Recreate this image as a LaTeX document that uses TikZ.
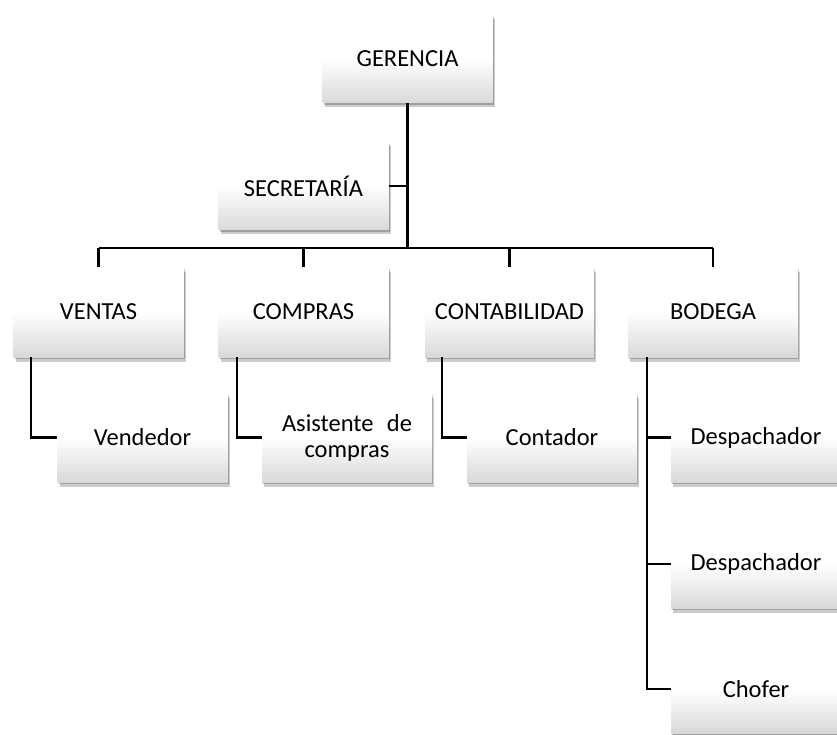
\documentclass[tikz,border=0pt]{standalone}
\usepackage{fontspec}
\setmainfont{Carlito}
\usetikzlibrary{shadows}
\tikzset{
  orgbox/.style={
    rectangle, minimum width=170pt, minimum height=88pt, inner sep=0pt,
    top color=white, bottom color=black!15, middle color=white,
    draw=none,
    general shadow={shadow xshift=1pt, shadow yshift=-2pt, fill=black, opacity=0.22},
    general shadow={shadow xshift=2pt, shadow yshift=-4.5pt, fill=black, opacity=0.2},
    font=\fontsize{24.5}{26}\selectfont, align=center
  },
  link/.style={draw=black, line width=2.4pt}
}
\begin{document}
\begin{tikzpicture}[x=1pt,y=-1pt]
\useasboundingbox (0,0) rectangle (837,735);

\node[orgbox] (ger) at (407.5,59) {GERENCIA};
\node[orgbox] (sec) at (303.5,186) {SECRETARÍA};
\node[orgbox, minimum height=90pt] (ven) at (98.5,312) {VENTAS};
\node[orgbox, minimum height=90pt] (com) at (303.5,312) {COMPRAS};
\node[orgbox, minimum height=90pt, minimum width=169pt] (con) at (509.5,312) {CONTABILIDAD};
\node[orgbox, minimum height=90pt] (bod) at (713,312) {BODEGA};

\node[orgbox, minimum height=89pt] (vend) at (142.5,437.5) {Vendedor};
\node[orgbox, minimum height=89pt] (asis) at (347,437.5) {\hbox to 130pt{Asistente\hfill de}\\compras};
\node[orgbox, minimum height=89pt] (cont) at (552,437.5) {Contador};
\node[orgbox, minimum height=89pt] (des1) at (756,437.5) {Despachador};
\node[orgbox, minimum height=88pt] (des2) at (756,564) {Despachador};
\node[orgbox, minimum height=88pt] (chof) at (756,689) {Chofer};

% coordinates
\coordinate (bus) at (407.5,248);
\coordinate (busL) at (98.5,248);
\coordinate (busR) at (713,248);

\draw[link] (ger.south) -- (bus);
\draw[link] (sec.east) -- (sec.east -| ger.south);
\draw[link] (busL) -- (busR);
\draw[link] (busL) -- (ven.north);
\draw[link] (busL -| com.north) -- (com.north);
\draw[link] (busL -| con.north) -- (con.north);
\draw[link] (busR) -- (bod.north);

\coordinate (v1) at (31,357);
\coordinate (c1) at (237,357);
\coordinate (k1) at (442,357);
\coordinate (b1) at (647,357);

\draw[link] (v1) |- (vend.west);
\draw[link] (c1) |- (asis.west);
\draw[link] (k1) |- (cont.west);
\draw[link] (b1) |- (chof.west);
\draw[link] (b1 |- des1.west) -- (des1.west);
\draw[link] (b1 |- des2.west) -- (des2.west);
\end{tikzpicture}
\end{document}
